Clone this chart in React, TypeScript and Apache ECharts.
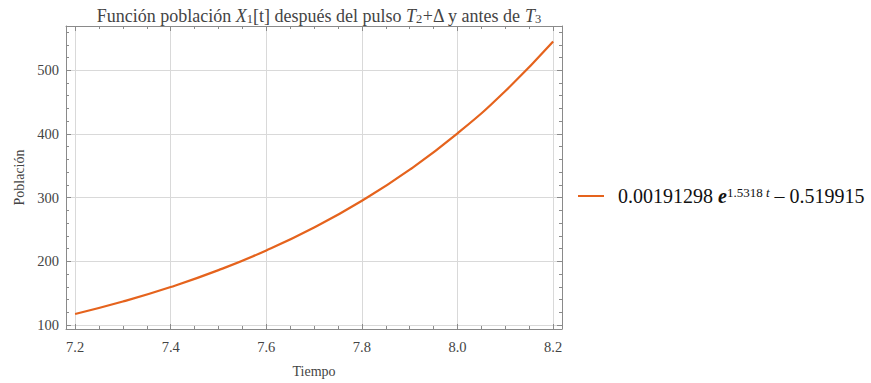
import React, { useEffect, useRef } from "react";
import * as echarts from "echarts";

const tValues = [7.2, 7.3, 7.4, 7.5, 7.6, 7.7, 7.8, 7.9, 8.0, 8.1, 8.2];
const population = [117.4, 136.9, 159.7, 186.2, 217.1, 253.1, 295.1, 344.0, 401.0, 467.5, 545.0];
const xMajorTicks = [7.2, 7.4, 7.6, 7.8, 8.0, 8.2];
const xMinorTicks = [7.25, 7.3, 7.35, 7.45, 7.5, 7.55, 7.65, 7.7, 7.75, 7.85, 7.9, 7.95, 8.05, 8.1, 8.15];
const yMajorTicks = [100, 200, 300, 400, 500];
const yMinorTicks = [120, 140, 160, 180, 220, 240, 260, 280, 320, 340, 360, 380, 420, 440, 460, 480, 520, 540, 560];

const X_MIN = 7.181;
const X_MAX = 8.2185;
const Y_MIN = 93.8;
const Y_MAX = 569.5;

const FONT = "Liberation Serif";
const FRAME = "#8a8a8a";
const LABEL = "#444444";
const CURVE = "#e5631d";

function xAxisDef(position: "bottom" | "top", ticks: number[], major: boolean, labels: boolean): any {
  return {
    type: "value",
    position,
    min: X_MIN,
    max: X_MAX,
    axisLine: { show: major, lineStyle: { color: FRAME, width: 1 } },
    axisTick: {
      show: true,
      inside: true,
      customValues: ticks,
      length: major ? 5 : 3,
      lineStyle: { color: FRAME, width: 1 },
    },
    axisLabel: labels
      ? {
          show: true,
          customValues: xMajorTicks,
          formatter: (v: number) => v.toFixed(1),
          color: LABEL,
          fontFamily: FONT,
          fontSize: 14.5,
          margin: 10,
        }
      : { show: false },
    splitLine: labels ? { show: true, lineStyle: { color: "#d9d9d9", width: 1 } } : { show: false },
    name: labels ? "Tiempo" : "",
    nameLocation: "middle",
    nameGap: 35,
    nameTextStyle: { color: LABEL, fontFamily: FONT, fontSize: 14 },
  };
}

function yAxisDef(position: "left" | "right", ticks: number[], major: boolean, labels: boolean): any {
  return {
    type: "value",
    position,
    min: Y_MIN,
    max: Y_MAX,
    axisLine: { show: major, lineStyle: { color: FRAME, width: 1 } },
    axisTick: {
      show: true,
      inside: true,
      customValues: ticks,
      length: major ? 5 : 3,
      lineStyle: { color: FRAME, width: 1 },
    },
    axisLabel: labels
      ? {
          show: true,
          customValues: yMajorTicks,
          color: LABEL,
          fontFamily: FONT,
          fontSize: 14.5,
          margin: 7,
        }
      : { show: false },
    splitLine: labels ? { show: true, lineStyle: { color: "#d9d9d9", width: 1 } } : { show: false },
    name: labels ? "Población" : "",
    nameLocation: "middle",
    nameGap: 40,
    nameRotate: 90,
    nameTextStyle: { color: LABEL, fontFamily: FONT, fontSize: 14 },
  };
}

export default function App() {
  const ref = useRef<HTMLDivElement>(null);

  useEffect(() => {
    if (!ref.current) return;
    const chart = echarts.init(ref.current, undefined, { renderer: "svg" });
    const data = tValues.map((t, i) => [t, population[i]]);
    chart.setOption({
      animation: false,
      backgroundColor: "#ffffff",
      textStyle: { fontFamily: FONT },
      title: {
        text: "{n|Función población }{i|X}{sub|1}{n|[t] después del pulso }{i|T}{sub|2}{n|+Δ y antes de }{i|T}{sub|3}",
        left: 314,
        textAlign: "center",
        top: 1,
        textStyle: {
          fontFamily: FONT,
          fontWeight: "normal",
          fontSize: 18,
          color: LABEL,
          rich: {
            n: { fontFamily: FONT, fontWeight: "normal", fontSize: 18, color: LABEL },
            i: { fontFamily: FONT, fontWeight: "normal", fontSize: 18, color: LABEL, fontStyle: "italic" },
            sub: { fontFamily: FONT, fontWeight: "normal", fontSize: 12.5, color: LABEL, verticalAlign: "bottom", padding: [6, 0, 0, 0] },
          },
        },
      },
      legend: {
        left: 573,
        top: 181,
        orient: "vertical",
        itemWidth: 26,
        itemHeight: 2,
        icon: "rect",
        data: ["Población"],
        formatter: () => "{g|}{n|0.00191298 }{e|e}{s|1.5318 }{si|t}{n| – 0.519915}",
        textStyle: {
          fontFamily: FONT,
          rich: {
            g: { width: 9 },
            n: { fontFamily: FONT, fontSize: 20, color: "#111111" },
            e: { fontFamily: FONT, fontSize: 20, color: "#111111", fontStyle: "italic", fontWeight: "bold" },
            s: { fontFamily: FONT, fontSize: 13, color: "#111111", verticalAlign: "top" },
            si: { fontFamily: FONT, fontSize: 13, color: "#111111", verticalAlign: "top", fontStyle: "italic" },
          },
        },
      },
      grid: { left: 66, top: 26, width: 496, height: 308, containLabel: false },
      xAxis: [
        xAxisDef("bottom", xMajorTicks, true, true),
        xAxisDef("bottom", xMinorTicks, false, false),
        xAxisDef("top", xMajorTicks, true, false),
        xAxisDef("top", xMinorTicks, false, false),
      ],
      yAxis: [
        yAxisDef("left", yMajorTicks, true, true),
        yAxisDef("left", yMinorTicks, false, false),
        yAxisDef("right", yMajorTicks, true, false),
        yAxisDef("right", yMinorTicks, false, false),
      ],
      series: [
        {
          name: "Población",
          type: "line",
          xAxisIndex: 0,
          yAxisIndex: 0,
          data,
          smooth: true,
          symbol: "none",
          lineStyle: { color: CURVE, width: 2.2 },
          itemStyle: { color: CURVE },
        },
      ],
    });
    return () => chart.dispose();
  }, []);

  return (
    <div
      ref={ref}
      style={{ position: "fixed", left: 0, top: 0, width: 871, height: 383, background: "#fff" }}
    />
  );
}
